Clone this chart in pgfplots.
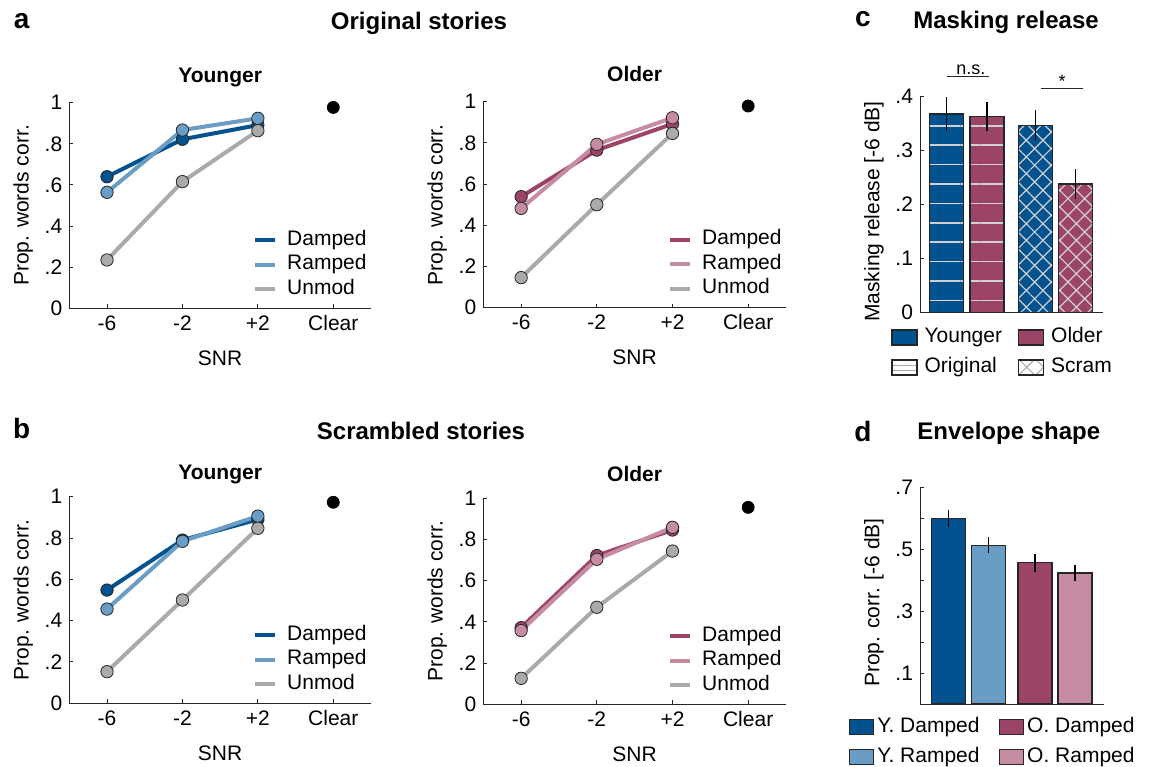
\documentclass[border=0pt]{standalone}
\usepackage{fontspec}
\setmainfont{Liberation Sans}
\usepackage{pgfplots}
\pgfplotsset{compat=1.18}
\usetikzlibrary{patterns.meta}
\definecolor{dblue}{RGB}{2,82,143}
\definecolor{lblue}{RGB}{106,157,197}
\definecolor{dred}{RGB}{156,68,104}
\definecolor{lred}{RGB}{198,140,163}
\definecolor{ugray}{RGB}{170,170,170}
\definecolor{axc}{RGB}{38,38,38}
\newcommand{\fsz}{\fontsize{10.5pt}{12pt}\selectfont}
\pgfplotsset{
 base/.style={scale only axis, axis x line*=bottom, axis y line*=left,
   tick align=inside, major tick length=2pt,
   axis line style={axc, line width=0.5pt},
   every tick/.style={axc, line width=0.5pt},
   tick label style={font=\fsz}, clip=false,
   every axis y label/.style={at={(axis description cs:0,0.5)}, xshift=-23pt, rotate=90, anchor=center, font=\fsz},
   every axis x label/.style={at={(axis description cs:0.5,0)}, yshift=-25pt, anchor=center, font=\fsz},
   every axis title/.style={at={(axis description cs:0.5,1)}, anchor=base, font=\fsz\bfseries},
 },
 linep/.style={base, xmin=0.5, xmax=4.5, ymin=0, ymax=1,
   xtick={1,2,3,4}, xticklabels={-6,-2,+2,Clear},
   ytick={0,0.2,0.4,0.6,0.8,1}, yticklabels={0,.2,.4,.6,.8,1},
   xlabel={SNR}, ylabel={Prop. words corr.},
   legend cell align=left,
   legend image code/.code={\draw[#1, line width=2pt] (0pt,0pt) -- (10pt,0pt);},
   legend style={at={(axis description cs:1,0.03)}, anchor=south east, draw=none, fill=none, inner sep=0pt, row sep=0pt,
     font=\fsz, nodes={inner ysep=0pt, text height=8.5pt, text depth=3.75pt},
     /tikz/every odd column/.append style={column sep=3pt}},
 },
 ser/.style={#1, line width=2pt, mark=*, mark size=3.1pt, mark options={fill=#1, draw=axc, line width=0.4pt}},
 clearpt/.style={only marks, mark=*, mark size=3pt, black, forget plot},
 barp/.style={ybar, bar width=17pt, bar shift=0pt, forget plot, fill=#1, draw=axc, line width=0.6pt,
   error bars/y dir=both, error bars/y explicit, error bars/error bar style={black, line width=0.6pt},
   error bars/error mark options={black, mark size=1.2pt, line width=0.6pt}},
}
\begin{document}
\begin{tikzpicture}
\useasboundingbox (0,0) rectangle (578.5pt,383pt);
% headings
\node[anchor=base, font=\fontsize{14pt}{16pt}\selectfont\bfseries] at (10.85pt,368.85pt) {a};
\node[anchor=base, font=\fontsize{12pt}{14pt}\selectfont\bfseries] at (209.5pt,368pt) {Original stories};
\node[anchor=base, font=\fontsize{14pt}{16pt}\selectfont\bfseries] at (431.5pt,369.7pt) {c};
\node[anchor=base, font=\fontsize{12pt}{14pt}\selectfont\bfseries] at (503pt,368.8pt) {Masking release};
\node[anchor=base, font=\fontsize{14pt}{16pt}\selectfont\bfseries] at (10.85pt,163.8pt) {b};
\node[anchor=base, font=\fontsize{12pt}{14pt}\selectfont\bfseries] at (210.5pt,163.3pt) {Scrambled stories};
\node[anchor=base, font=\fontsize{14pt}{16pt}\selectfont\bfseries] at (431.5pt,162.2pt) {d};
\node[anchor=base, font=\fontsize{12pt}{14pt}\selectfont\bfseries] at (504.4pt,163pt) {Envelope shape};

% a Younger
\begin{axis}[linep, at={(34.65pt,228.85pt)}, anchor=south west, width=150.85pt, height=102.8pt,
  title={Younger}, title style={yshift=10.3pt}]
\addplot[ser=dblue] coordinates {(1,0.640) (2,0.822) (3,0.891)};
\addlegendentry{Damped}
\addplot[ser=lblue] coordinates {(1,0.564) (2,0.867) (3,0.924)};
\addlegendentry{Ramped}
\addplot[ser=ugray] coordinates {(1,0.235) (2,0.616) (3,0.864)};
\addlegendentry{Unmod}
\addplot[clearpt] coordinates {(4,0.977)};
\end{axis}

% a Older
\begin{axis}[linep, at={(241.65pt,229.15pt)}, anchor=south west, width=151.35pt, height=103pt,
  title={Older}, title style={yshift=10.3pt}]
\addplot[ser=dred] coordinates {(1,0.539) (2,0.765) (3,0.892)};
\addlegendentry{Damped}
\addplot[ser=lred] coordinates {(1,0.482) (2,0.793) (3,0.922)};
\addlegendentry{Ramped}
\addplot[ser=ugray] coordinates {(1,0.146) (2,0.500) (3,0.846)};
\addlegendentry{Unmod}
\addplot[clearpt] coordinates {(4,0.979)};
\end{axis}

% b Younger
\begin{axis}[linep, at={(34.65pt,31.35pt)}, anchor=south west, width=150.85pt, height=103.3pt,
  title={Younger}, title style={yshift=8.6pt}]
\addplot[ser=dblue] coordinates {(1,0.548) (2,0.790) (3,0.890)};
\addlegendentry{Damped}
\addplot[ser=lblue] coordinates {(1,0.456) (2,0.784) (3,0.906)};
\addlegendentry{Ramped}
\addplot[ser=ugray] coordinates {(1,0.153) (2,0.500) (3,0.847)};
\addlegendentry{Unmod}
\addplot[clearpt] coordinates {(4,0.973)};
\end{axis}

% b Older
\begin{axis}[linep, at={(241.65pt,30.85pt)}, anchor=south west, width=151.35pt, height=103pt,
  title={Older}, title style={yshift=8.6pt}]
\addplot[ser=dred] coordinates {(1,0.372) (2,0.722) (3,0.846)};
\addlegendentry{Damped}
\addplot[ser=lred] coordinates {(1,0.358) (2,0.704) (3,0.859)};
\addlegendentry{Ramped}
\addplot[ser=ugray] coordinates {(1,0.126) (2,0.471) (3,0.744)};
\addlegendentry{Unmod}
\addplot[clearpt] coordinates {(4,0.956)};
\end{axis}

% c Masking release
\begin{axis}[base, at={(460pt,226.85pt)}, anchor=south west, width=91.35pt, height=107.8pt,
  xmin=0.337, xmax=4.875, ymin=0, ymax=0.4, xtick=\empty,
  ytick={0,0.1,0.2,0.3,0.4}, yticklabels={0,.1,.2,.3,.4},
  ylabel={Masking release [-6 dB]}, ylabel style={xshift=-3.5pt},
  legend columns=2, legend cell align=left,
  legend image code/.code={\draw[#1] (0pt,-3.75pt) rectangle (12.5pt,3.75pt);},
  legend style={at={(axis description cs:-0.159,-0.066)}, anchor=north west, draw=none, fill=none, inner sep=0pt,
     row sep=4.5pt, font=\fsz, nodes={inner ysep=0pt, text height=8pt, text depth=2.5pt},
     /tikz/every odd column/.append style={column sep=1.5pt},
     /tikz/every even column/.append style={column sep=6pt}},
]
\addplot[barp=dblue, postaction={pattern={Lines[angle=0,distance=9.7pt,line width=0.8pt]}, pattern color=black!18}]
  coordinates {(1,0.368) +- (0,0.027)};
\addplot[barp=dred, postaction={pattern={Lines[angle=0,distance=9.7pt,line width=0.8pt]}, pattern color=black!18}]
  coordinates {(2,0.3635) +- (0,0.023)};
\addplot[barp=dblue, postaction={pattern={Hatch[angle=45,distance=5.9pt,line width=0.6pt]}, pattern color=black!18}]
  coordinates {(3.2,0.347) +- (0,0.024)};
\addplot[barp=dred, postaction={pattern={Hatch[angle=45,distance=5.9pt,line width=0.6pt]}, pattern color=black!18}]
  coordinates {(4.2,0.238) +- (0,0.024)};
\addlegendimage{fill=dblue, draw=axc, line width=0.6pt}
\addlegendentry{Younger}
\addlegendimage{fill=dred, draw=axc, line width=0.6pt}
\addlegendentry{Older}
\addlegendimage{fill=white, draw=axc, line width=0.6pt, postaction={pattern={Lines[angle=0,distance=2.5pt,line width=0.5pt]}, pattern color=black!35}}
\addlegendentry{Original}
\addlegendimage{fill=white, draw=axc, line width=0.6pt, postaction={pattern={Hatch[angle=45,distance=6pt,line width=0.5pt]}, pattern color=black!35}}
\addlegendentry{Scram}
\draw[axc, line width=0.6pt] (axis cs:1.0,0.437) -- (axis cs:2.05,0.437);
\node[anchor=base, inner sep=0pt, font=\fontsize{9pt}{10pt}\selectfont] at (axis cs:1.6,0.441) {n.s.};
\draw[axc, line width=0.6pt] (axis cs:3.335,0.4155) -- (axis cs:4.377,0.4155);
\node[anchor=base, inner sep=0pt, font=\fontsize{9pt}{10pt}\selectfont] at (axis cs:3.87,0.417) {*};
\end{axis}

% d Envelope shape
\begin{axis}[base, at={(460pt,31pt)}, anchor=south west, width=92pt, height=108.35pt,
  xmin=0.28, xmax=4.875, ymin=0, ymax=0.7, xtick=\empty,
  ytick={0.1,0.2,0.3,0.4,0.5,0.6,0.7}, yticklabels={.1,,.3,,.5,,.7},
  ylabel={Prop. corr. [-6 dB]}, ylabel style={xshift=-3.5pt},
  legend columns=2, legend cell align=left,
  legend image code/.code={\draw[#1] (0pt,-3.75pt) rectangle (12.2pt,3.75pt);},
  legend style={at={(axis description cs:-0.39,-0.055)}, anchor=north west, draw=none, fill=none, inner sep=0pt,
     row sep=4.5pt, font=\fsz, nodes={inner ysep=0pt, inner xsep=1.5pt, text height=8pt, text depth=2.5pt},
     /tikz/every even column/.append style={column sep=8pt}},
]
\addplot[barp=dblue] coordinates {(1,0.600) +- (0,0.020)};
\addplot[barp=lblue] coordinates {(2,0.513) +- (0,0.018)};
\addplot[barp=dred] coordinates {(3.15,0.456) +- (0,0.022)};
\addplot[barp=lred] coordinates {(4.15,0.423) +- (0,0.019)};
\addlegendimage{fill=dblue, draw=axc, line width=0.6pt}
\addlegendentry{Y. Damped}
\addlegendimage{fill=dred, draw=axc, line width=0.6pt}
\addlegendentry{O. Damped}
\addlegendimage{fill=lblue, draw=axc, line width=0.6pt}
\addlegendentry{Y. Ramped}
\addlegendimage{fill=lred, draw=axc, line width=0.6pt}
\addlegendentry{O. Ramped}
\end{axis}
\end{tikzpicture}
\end{document}
